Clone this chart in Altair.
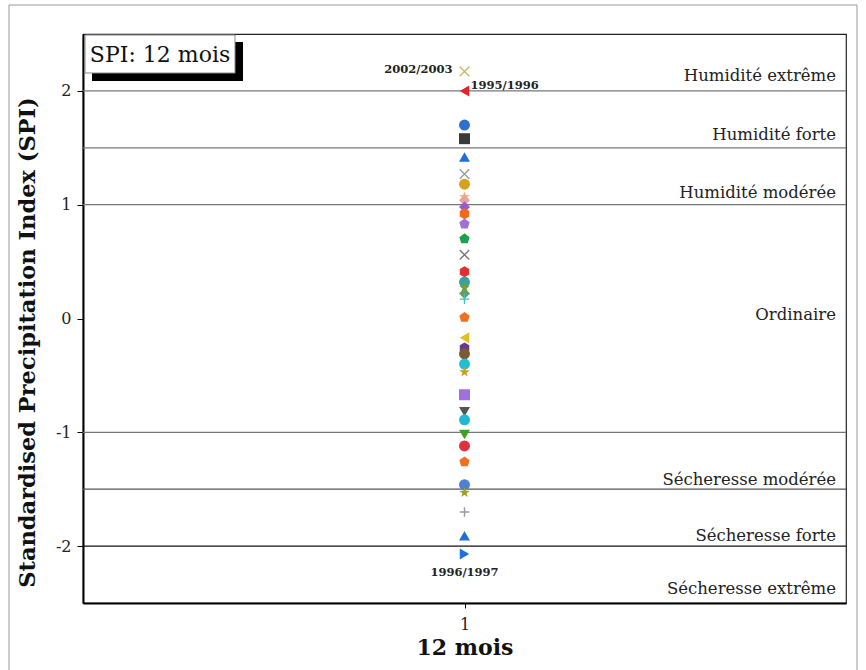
import altair as alt
import pandas as pd

# SPI values (12-month scale), one per hydrological year
spi_values = [2.17, 2.00, 1.70, 1.58, 1.42, 1.27, 1.18, 1.07, 1.04, 0.98, 0.92, 0.83,
              0.70, 0.56, 0.41, 0.32, 0.27, 0.22, 0.17, 0.01, -0.17, -0.26, -0.31,
              -0.40, -0.47, -0.67, -0.82, -0.89, -1.02, -1.12, -1.26, -1.46, -1.53,
              -1.70, -1.91, -2.07]

# marker shape and colour of each year
PENT = "M0,-1L0.951,-0.309L0.588,0.809L-0.588,0.809L-0.951,-0.309Z"
HEX = "M0,-1L0.866,-0.5L0.866,0.5L0,1L-0.866,0.5L-0.866,-0.5Z"
STAR = ("M0,-1L0.235,-0.324L0.951,-0.309L0.38,0.124L0.588,0.809L0,0.4"
        "L-0.588,0.809L-0.38,0.124L-0.951,-0.309L-0.235,-0.324Z")
XMARK = "M-1,-1L1,1M-1,1L1,-1"
PLUS = "M-1,0L1,0M0,-1L0,1"

marker_shapes = [XMARK, "triangle-left", "circle", "square", "triangle-up", XMARK, "circle",
                 STAR, "diamond", "diamond", HEX, PENT, PENT, XMARK, HEX, "circle", STAR,
                 "diamond", PLUS, PENT, "triangle-left", HEX, "circle", "circle", STAR,
                 "square", "triangle-down", "circle", "triangle-down", "circle", PENT,
                 "circle", STAR, PLUS, "triangle-up", "triangle-right"]
marker_colors = ["#c8b46e", "#e0242a", "#2f6fd0", "#3a3a3a", "#1f6fd8", "#9a9a9a", "#d8a020",
                 "#f4b183", "#e8a0a0", "#9b59d0", "#f06a1a", "#a070d8", "#1fa050", "#777777",
                 "#e03030", "#3aa0a0", "#80a020", "#60a060", "#40c0c0", "#f07020", "#e0c020",
                 "#6a3a8a", "#7a5a30", "#20c0d0", "#c8a020", "#a070e0", "#555555", "#20b8d8",
                 "#40a020", "#e03040", "#f07020", "#5080d0", "#a0a020", "#999999", "#1f6fd8",
                 "#1f6fd8"]

# labelled years and the index of their value
label_years = ["2002/2003", "1995/1996", "1996/1997"]
label_index = [0, 1, 35]

# class boundaries and class names
thresholds = [2.0, 1.5, 1.0, -1.0, -1.5, -2.0]
threshold_colors = ["#777777", "#777777", "#777777", "#777777", "#555555", "#111111"]
class_names = ["Humidité extrême", "Humidité forte", "Humidité modérée", "Ordinaire",
               "Sécheresse modérée", "Sécheresse forte", "Sécheresse extrême"]
class_positions = [2.13, 1.61, 1.10, 0.03, -1.42, -1.91, -2.38]

FONT = "DejaVu Serif"
stroked = {XMARK, PLUS}

pts = pd.DataFrame({
    "scale": 1,
    "spi": spi_values,
    "shape": marker_shapes,
    "color": marker_colors,
    "hollow": [s in stroked for s in marker_shapes],
})

xs = alt.Scale(domain=[0, 2])
ys = alt.Scale(domain=[-2.5, 2.5], nice=False, zero=False)

x_enc = alt.X("scale:Q", scale=xs,
              axis=alt.Axis(values=[1], format="d", title="12 mois", grid=False,
                            labelFontSize=16, labelFont=FONT, titleFont=FONT, titleFontSize=22,
                            titleFontWeight="bold", labelPadding=8, titlePadding=5,
                            tickSize=5, domainWidth=2, domainColor="black",
                            tickColor="black", labelColor="#222", titleColor="#111"))
y_enc = alt.Y("spi:Q", scale=ys,
              axis=alt.Axis(values=[-2, -1, 0, 1, 2], labelExpr="replace(format(datum.value, 'd'), '−', '-')",
                            title="Standardised Precipitation Index (SPI)",
                            grid=False, labelFontSize=16, labelFont=FONT, titleFont=FONT,
                            titleFontSize=22.5, titleFontWeight="bold", tickSize=6,
                            labelPadding=6, domainWidth=2, domainColor="black",
                            tickColor="black", labelColor="#222", titleColor="#111",
                            titleY=308, titleX=-44))

rules = alt.Chart(pd.DataFrame({"v": thresholds, "c": threshold_colors})).mark_rule(
    strokeWidth=1.3).encode(y=alt.Y("v:Q", scale=ys), color=alt.Color("c:N", scale=None))

classes = alt.Chart(pd.DataFrame({"name": class_names, "pos": class_positions})).mark_text(
    align="right", baseline="middle", font=FONT, fontSize=16.5, color="#222").encode(
    y=alt.Y("pos:Q", scale=ys), x=alt.value(753), text="name:N")

filled_pts = alt.Chart(pts).transform_filter("!datum.hollow").mark_point(
    filled=True, size=120, opacity=1).encode(
    x=x_enc, y=y_enc,
    shape=alt.Shape("shape:N", scale=None),
    color=alt.Color("color:N", scale=None))

hollow_pts = alt.Chart(pts).transform_filter("datum.hollow").mark_point(
    filled=False, size=90, strokeWidth=1.4, opacity=1).encode(
    x=alt.X("scale:Q", scale=xs), y=alt.Y("spi:Q", scale=ys),
    shape=alt.Shape("shape:N", scale=None),
    color=alt.Color("color:N", scale=None))


def year_label(i, **kw):
    row = pd.DataFrame({"scale": [1], "spi": [spi_values[label_index[i]]],
                        "t": [label_years[i]]})
    return alt.Chart(row).mark_text(font=FONT, fontSize=11.5, fontWeight="bold",
                                    color="#222", **kw).encode(
        x=alt.X("scale:Q", scale=xs), y=alt.Y("spi:Q", scale=ys), text="t:N")


labels = (year_label(0, align="right", dx=-12, dy=-2)
          + year_label(1, align="left", dx=6, dy=-5)
          + year_label(2, align="center", dy=19))

one = pd.DataFrame({"k": [0]})
frame = alt.Chart(one).mark_rect(fill=None, stroke="#999999", strokeWidth=1).encode(
    x=alt.value(-74), x2=alt.value(774), y=alt.value(-29), y2=alt.value(700))
shadow = alt.Chart(one).mark_rect(fill="black").encode(
    x=alt.value(9), x2=alt.value(160), y=alt.value(8), y2=alt.value(47))
box = alt.Chart(one).mark_rect(fill="white", stroke="#888888", strokeWidth=1).encode(
    x=alt.value(2), x2=alt.value(152), y=alt.value(1), y2=alt.value(39))
box_text = alt.Chart(one).mark_text(font=FONT, fontSize=22, color="#111", align="center",
                                    baseline="middle").encode(
    x=alt.value(77), y=alt.value(21), text=alt.value("SPI: 12 mois"))

chart = alt.layer(
    frame, rules, classes, filled_pts, hollow_pts, labels, shadow, box, box_text
).properties(
    width=763, height=569,
    autosize=alt.AutoSizeParams(type="none"),
    padding={"left": 83, "top": 34, "right": 20, "bottom": 67},
    background="white",
).configure_view(stroke="#222", strokeWidth=1.2)

chart.save("out.html", embed_options={"renderer": "svg", "actions": False})
